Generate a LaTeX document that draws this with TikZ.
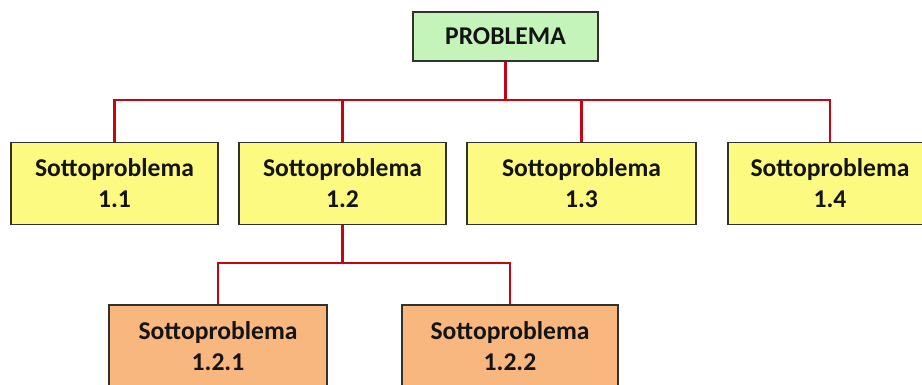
\documentclass[tikz,border=0pt]{standalone}
\usepackage{fontspec}
\setmainfont{Carlito}
\definecolor{boxgreen}{RGB}{196,244,186}
\definecolor{boxyellow}{RGB}{252,250,128}
\definecolor{boxorange}{RGB}{249,183,128}
\definecolor{linered}{RGB}{195,5,20}
\definecolor{edge}{RGB}{50,50,45}
\begin{document}
\begin{tikzpicture}[x=1pt,y=-1pt,
  box/.style={draw=edge,line width=1.8pt,rectangle,inner sep=0pt,align=center,
    font=\fontsize{25.6}{31}\selectfont\bfseries,text=black!92},
  top/.style={box,fill=boxgreen,minimum width=185pt,minimum height=49pt},
  sub/.style={box,fill=boxyellow,minimum height=82pt},
  subsub/.style={box,fill=boxorange,minimum height=83pt},
  conn/.style={draw=linered,line width=2.6pt}]
\useasboundingbox (0,0) rectangle (922,385);
\coordinate (bus1) at (505.5,100);
\coordinate (bus2) at (342.5,263);
% nodes
\node[top] (P) at (505.5,36.5) {PROBLEMA};
\node[sub,minimum width=207pt] (s11) at (114.5,183.5) {Sottoproblema\\1.1};
\node[sub,minimum width=207pt] (s12) at (342.5,183.5) {Sottoproblema\\1.2};
\node[sub,minimum width=229pt] (s13) at (581.5,183.5) {Sottoproblema\\1.3};
\node[sub,minimum width=204pt] (s14) at (830,183.5) {Sottoproblema\\1.4};
\node[subsub,minimum width=218pt] (s121) at (218,346.5) {Sottoproblema\\1.2.1};
\node[subsub,minimum width=216pt] (s122) at (510,346.5) {Sottoproblema\\1.2.2};
% connectors
\draw[conn] (P.south) -- (bus1);
\draw[conn] (bus1) -| (s11.north);
\draw[conn] (bus1) -| (s12.north);
\draw[conn] (bus1) -| (s13.north);
\draw[conn] (bus1) -| (s14.north);
\draw[conn] (s12.south) -- (bus2);
\draw[conn] (bus2) -| (s121.north);
\draw[conn] (bus2) -| (s122.north);
\end{tikzpicture}
\end{document}
